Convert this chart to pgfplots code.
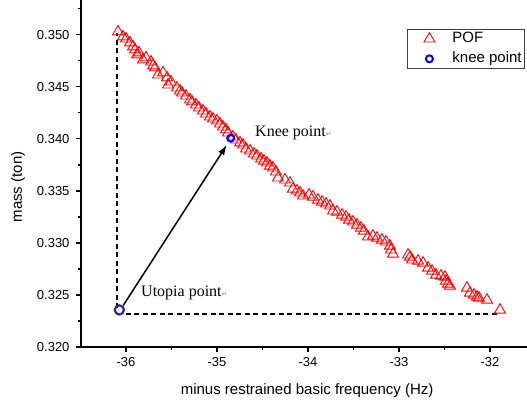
\documentclass[border=0pt]{standalone}
\usepackage{pgfplots}
\pgfplotsset{compat=1.18}
\usepackage{fontspec}
\setmainfont{Liberation Sans}
\newfontfamily\timesfont{Liberation Serif}
\newfontfamily\dejavu{DejaVu Sans}
\usetikzlibrary{arrows.meta}
\definecolor{navyc}{RGB}{40,40,150}
\begin{document}
\begin{tikzpicture}
\begin{axis}[
  scale only axis,
  width=446pt, height=347pt,
  xmin=-36.4945, xmax=-31.593,
  ymin=0.320, ymax=0.35334,
  axis x line*=bottom, axis y line*=left,
  axis line style={line width=1.4pt, -},
  xtick={-36,-35,-34,-33,-32},
  minor xtick={-36.5,-35.5,-34.5,-33.5,-32.5},
  ytick={0.320,0.325,0.330,0.335,0.340,0.345,0.350},
  minor ytick={0.3225,0.3275,0.3325,0.3375,0.3425,0.3475,0.3525},
  tick align=outside,
  major tick length=5pt, minor tick length=3pt,
  every tick/.style={black, line width=1.3pt},
  /pgf/number format/assume math mode=true,
  yticklabel style={/pgf/number format/fixed, /pgf/number format/fixed zerofill, /pgf/number format/precision=3, xshift=-3pt},
  ticklabel style={font=\fontsize{13}{15}\selectfont},
  xticklabel style={yshift=-2pt},
  scaled y ticks=false,
  xlabel={minus restrained basic frequency (Hz)},
  ylabel={mass (ton)},
  every axis x label/.style={at={(axis description cs:0.507,-0.138)}, anchor=base, font=\fontsize{15}{17}\selectfont},
  every axis y label/.style={at={(axis description cs:-0.141,0.461)}, rotate=90, anchor=center, font=\fontsize{15}{17}\selectfont},
  clip=false,
  legend style={at={(0.731,0.9165)}, anchor=north west, draw=gray!50!black, line width=0.8pt,
    font=\fontsize{15}{17}\selectfont, inner xsep=3pt, inner ysep=2.5pt, row sep=6pt,
    nodes={inner sep=0pt, text height=11pt, text depth=3pt},
    /tikz/every odd column/.append style={column sep=4pt}},
  legend image code/.code={\path[draw=none] (0pt,0pt) -- (38pt,0pt); \draw plot coordinates {(19pt,0pt)};},
  legend cell align=left,
]
% dashed guide lines
\addplot[black, line width=1.8pt, dash pattern=on 5pt off 3.5pt, forget plot] coordinates {(-36.095,0.3237) (-36.095,0.3502)};
\addplot[black, line width=1.8pt, dash pattern=on 5pt off 3.5pt, forget plot] coordinates {(-36.00,0.32317) (-31.91,0.32317)};
% arrow
\addplot[black, line width=1.5pt, -{Latex[length=10pt,width=7pt]}, forget plot] coordinates {(-36.03,0.3240) (-34.893,0.3394)};
% POF
\addplot[only marks, mark=triangle, mark size=6.3pt, red, mark options={line width=0.9pt, fill=none}] coordinates {
(-36.088,0.35029) (-36.033,0.34981) (-36.000,0.34961) (-35.956,0.34923) (-35.923,0.34885)
(-35.901,0.34856) (-35.879,0.34808) (-35.857,0.34827) (-35.813,0.34760) (-35.780,0.34779)
(-35.725,0.34740) (-35.703,0.34702) (-35.681,0.34683) (-35.648,0.34615) (-35.593,0.34635)
(-35.549,0.34587) (-35.538,0.34519) (-35.505,0.34548) (-35.440,0.34490) (-35.407,0.34461)
(-35.385,0.34442) (-35.341,0.34413) (-35.297,0.34375) (-35.275,0.34356) (-35.231,0.34327)
(-35.198,0.34298) (-35.154,0.34269) (-35.121,0.34240) (-35.077,0.34211) (-35.044,0.34192)
(-35.000,0.34173) (-34.967,0.34144) (-34.934,0.34115) (-34.901,0.34087) (-34.879,0.34058)
(-34.824,0.34019) (-34.791,0.33990) (-34.747,0.33962) (-34.714,0.33942) (-34.681,0.33904)
(-34.637,0.33885) (-34.593,0.33856) (-34.560,0.33837) (-34.516,0.33808) (-34.484,0.33788)
(-34.451,0.33769) (-34.418,0.33740) (-34.385,0.33721) (-34.352,0.33683) (-34.330,0.33625)
(-34.253,0.33606) (-34.198,0.33577) (-34.165,0.33519) (-34.121,0.33500) (-34.088,0.33481)
(-34.055,0.33452) (-33.989,0.33462) (-33.945,0.33442) (-33.890,0.33413) (-33.846,0.33394)
(-33.802,0.33375) (-33.758,0.33356) (-33.725,0.33308) (-33.681,0.33298) (-33.626,0.33269)
(-33.582,0.33250) (-33.549,0.33221) (-33.505,0.33202) (-33.462,0.33173) (-33.418,0.33144)
(-33.385,0.33115) (-33.341,0.33058) (-33.286,0.33067) (-33.242,0.33048) (-33.187,0.33029)
(-33.143,0.33010) (-33.099,0.32971) (-33.088,0.32933) (-33.066,0.32894) (-32.901,0.32885)
(-32.879,0.32865) (-32.857,0.32837) (-32.791,0.32827) (-32.736,0.32808) (-32.681,0.32760)
(-32.637,0.32731) (-32.593,0.32692) (-32.538,0.32683) (-32.495,0.32673) (-32.484,0.32635)
(-32.462,0.32606) (-32.440,0.32587) (-32.253,0.32567) (-32.220,0.32519) (-32.176,0.32500)
(-32.143,0.32481) (-32.121,0.32471) (-32.033,0.32452) (-31.890,0.32356)
};
\addlegendentry{POF}
% knee point
\addplot[only marks, mark=o, mark size=3.5pt, blue, mark options={line width=2pt}] coordinates {(-34.849,0.34007)};
\addlegendentry{knee point}
% utopia point
\addplot[only marks, mark=o, mark size=4.6pt, navyc, mark options={line width=2.2pt}, forget plot] coordinates {(-36.073,0.32356)};
% annotations
\node[anchor=base west, inner sep=0pt, font=\timesfont\fontsize{16}{18}\selectfont] at (axis cs:-34.582,0.34019) {Knee point{\dejavu\fontsize{7}{8}\selectfont\color{gray}↵}};
\node[anchor=base west, inner sep=0pt, font=\timesfont\fontsize{16}{18}\selectfont] at (axis cs:-35.835,0.32481) {Utopia point{\dejavu\fontsize{7}{8}\selectfont\color{gray}↵}};
\end{axis}
\pgfresetboundingbox
\path[use as bounding box] (-81pt,-52pt) rectangle (446pt,347pt);
\end{tikzpicture}
\end{document}
